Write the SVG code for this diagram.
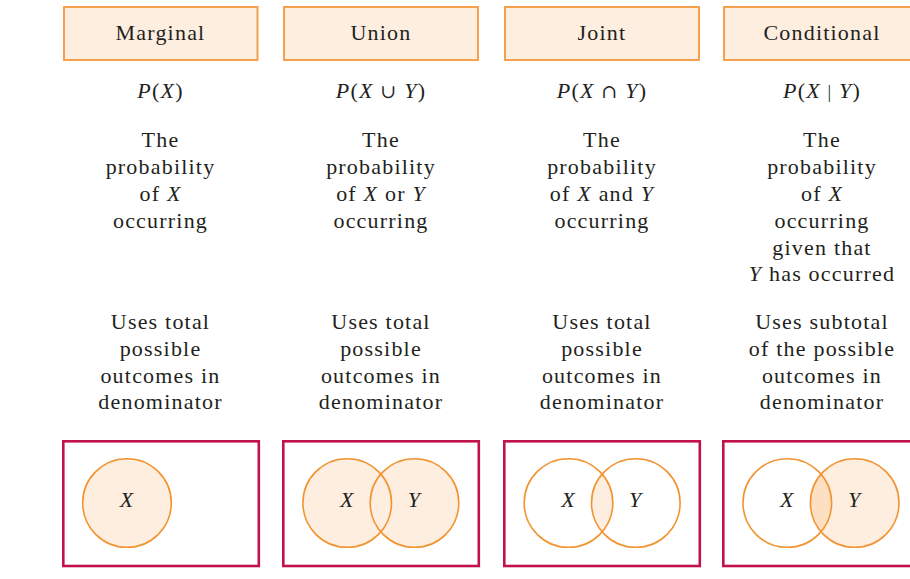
<svg xmlns="http://www.w3.org/2000/svg" width="910" height="579" viewBox="0 0 910 579">
<style>
text{font-family:"Liberation Serif","Times New Roman",serif;font-size:22px;fill:#231f20;text-anchor:middle;letter-spacing:1.2px}
.i{font-style:italic}
.op{font-family:"DejaVu Serif",serif;font-size:19px}
.hdr{fill:#fdeee0;stroke:#f5a04c;stroke-width:2}
.frame{fill:#fff;stroke:#c1124a;stroke-width:2.6}
.c{fill:none;stroke:#f29431;stroke-width:1.6}
.f{fill:#fdeee0}
.d{fill:#fde0c2}
</style>
<defs>
<clipPath id="cpJ"><circle cx="568.5" cy="503" r="44.3"/></clipPath>
<clipPath id="cpC"><circle cx="787.3" cy="503" r="44.3"/></clipPath>
</defs>
<rect width="910" height="579" fill="#fff"/>

<g id="marginal">
<rect class="hdr" x="64" y="7" width="193.5" height="53"/>
<text x="160.5" y="40">Marginal</text>
<text x="160.5" y="98"><tspan class="i">P</tspan>(<tspan class="i">X</tspan>)</text>
<text x="160.5" y="147">The</text>
<text x="160.5" y="174">probability</text>
<text x="160.5" y="201">of <tspan class="i">X</tspan></text>
<text x="160.5" y="228">occurring</text>
<text x="160.5" y="329">Uses total</text>
<text x="160.5" y="356">possible</text>
<text x="160.5" y="383">outcomes in</text>
<text x="160.5" y="409">denominator</text>
<rect class="frame" x="63.3" y="441.3" width="195.5" height="124.7"/>
<circle class="c f" cx="127" cy="503" r="44.3"/>
<text class="i" x="127" y="507">X</text>
</g>

<g id="union">
<rect class="hdr" x="284" y="7" width="194" height="53"/>
<text x="381" y="40">Union</text>
<text x="381" y="98"><tspan class="i">P</tspan>(<tspan class="i">X</tspan> <tspan class="op">∪</tspan> <tspan class="i">Y</tspan>)</text>
<text x="381" y="147">The</text>
<text x="381" y="174">probability</text>
<text x="381" y="201">of <tspan class="i">X</tspan> or <tspan class="i">Y</tspan></text>
<text x="381" y="228">occurring</text>
<text x="381" y="329">Uses total</text>
<text x="381" y="356">possible</text>
<text x="381" y="383">outcomes in</text>
<text x="381" y="409">denominator</text>
<rect class="frame" x="283.3" y="441.3" width="195.5" height="124.7"/>
<circle class="f" cx="347.2" cy="503" r="44.3"/>
<circle class="f" cx="414.5" cy="503" r="44.3"/>
<circle class="c" cx="347.2" cy="503" r="44.3"/>
<circle class="c" cx="414.5" cy="503" r="44.3"/>
<text class="i" x="347.2" y="507">X</text>
<text class="i" x="414.5" y="507">Y</text>
</g>

<g id="joint">
<rect class="hdr" x="505" y="7" width="194" height="53"/>
<text x="602" y="40">Joint</text>
<text x="602" y="98"><tspan class="i">P</tspan>(<tspan class="i">X</tspan> <tspan class="op">∩</tspan> <tspan class="i">Y</tspan>)</text>
<text x="602" y="147">The</text>
<text x="602" y="174">probability</text>
<text x="602" y="201">of <tspan class="i">X</tspan> and <tspan class="i">Y</tspan></text>
<text x="602" y="228">occurring</text>
<text x="602" y="329">Uses total</text>
<text x="602" y="356">possible</text>
<text x="602" y="383">outcomes in</text>
<text x="602" y="409">denominator</text>
<rect class="frame" x="504.3" y="441.3" width="195.5" height="124.7"/>
<circle class="f" cx="635.8" cy="503" r="44.3" clip-path="url(#cpJ)"/>
<circle class="c" cx="568.5" cy="503" r="44.3"/>
<circle class="c" cx="635.8" cy="503" r="44.3"/>
<text class="i" x="568.5" y="507">X</text>
<text class="i" x="635.8" y="507">Y</text>
</g>

<g id="conditional">
<rect class="hdr" x="724" y="7" width="194" height="53"/>
<text x="822" y="40">Conditional</text>
<text x="822" y="98"><tspan class="i">P</tspan>(<tspan class="i">X</tspan> <tspan font-size="18">|</tspan> <tspan class="i">Y</tspan>)</text>
<text x="822" y="147">The</text>
<text x="822" y="174">probability</text>
<text x="822" y="201">of <tspan class="i">X</tspan></text>
<text x="822" y="228">occurring</text>
<text x="822" y="255">given that</text>
<text x="822" y="281"><tspan class="i">Y</tspan> has occurred</text>
<text x="822" y="329">Uses subtotal</text>
<text x="822" y="356">of the possible</text>
<text x="822" y="383">outcomes in</text>
<text x="822" y="409">denominator</text>
<rect class="frame" x="723.3" y="441.3" width="195.5" height="124.7"/>
<circle class="f" cx="854.7" cy="503" r="44.3"/>
<circle class="d" cx="854.7" cy="503" r="44.3" clip-path="url(#cpC)"/>
<circle class="c" cx="787.3" cy="503" r="44.3"/>
<circle class="c" cx="854.7" cy="503" r="44.3"/>
<text class="i" x="787.3" y="507">X</text>
<text class="i" x="854.7" y="507">Y</text>
</g>

<g id="connectors"></g>
</svg>
